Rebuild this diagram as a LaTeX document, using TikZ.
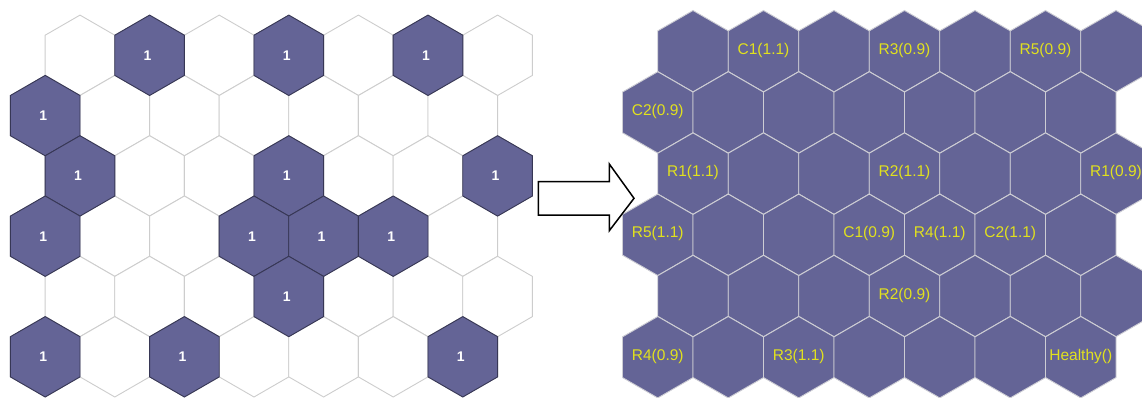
\documentclass[tikz,border=0pt]{standalone}
\usepackage{fontspec}
\setmainfont{Liberation Sans}
\definecolor{somfill}{RGB}{100,100,150}
\definecolor{darkedge}{RGB}{55,55,85}
\definecolor{lightedge}{RGB}{205,205,205}
\definecolor{gridedge}{RGB}{205,205,212}
\definecolor{lbl}{RGB}{225,225,30}
\tikzset{
  emptyhex/.style={fill=white,draw=lightedge,line width=0.9pt},
  hithex/.style={fill=somfill,draw=darkedge,line width=0.9pt},
  maphex/.style={fill=somfill,draw=gridedge,line width=0.9pt},
  hitlabel/.style={text=white,font=\fontsize{14}{14}\selectfont\bfseries,inner sep=0pt},
  maplabel/.style={text=lbl,font=\fontsize{15.5}{15.5}\selectfont,inner sep=0pt},
  bigarrow/.style={fill=white,draw=black,line width=1.5pt,line join=miter}
}
\newcommand{\hexat}[4]{% style, cx, cy, R
  \path[#1,shift={(#2,#3)}] (90:#4) -- (150:#4) -- (210:#4) -- (270:#4) -- (330:#4) -- (30:#4) -- cycle;}
\begin{document}
\begin{tikzpicture}[x=1pt,y=-1pt]
\useasboundingbox (0,0) rectangle (1142,398);
\clip (0,0) rectangle (1142,398);
% ---------- left map: empty cells ----------
\foreach \r in {0,...,5}{
  \foreach \k in {0,...,6}{
    \pgfmathsetmacro{\cx}{mod(\r,2)==0 ? 80+69.6*\k : 45.2+69.6*\k}
    \pgfmathsetmacro{\cy}{55.3+60.3*\r}
    \hexat{emptyhex}{\cx}{\cy}{40.2}
  }
}
% ---------- left map: hit cells ----------
\foreach \r/\k [count=\i] in {0/1,0/3,0/5,1/0,2/0,2/3,2/6,3/0,3/3,3/4,3/5,4/3,5/0,5/2,5/6}{
  \pgfmathsetmacro{\cx}{mod(\r,2)==0 ? 80+69.6*\k : 45.2+69.6*\k}
  \pgfmathsetmacro{\cy}{55.3+60.3*\r}
  \hexat{hithex}{\cx}{\cy}{40.2}
  \node[hitlabel] (hit\i) at (\cx-2,\cy) {1};
}
% ---------- right map ----------
\foreach \r in {0,...,5}{
  \foreach \k in {0,...,6}{
    \pgfmathsetmacro{\cx}{mod(\r,2)==0 ? 693+70.5*\k : 657.75+70.5*\k}
    \pgfmathsetmacro{\cy}{51.2+61.2*\r}
    \hexat{maphex}{\cx}{\cy}{40.7}
  }
}
\foreach \r/\k/\t [count=\i] in {0/1/C1(1.1),0/3/R3(0.9),0/5/R5(0.9),1/0/C2(0.9),
  2/0/R1(1.1),2/3/R2(1.1),2/6/R1(0.9),3/0/R5(1.1),3/3/C1(0.9),3/4/R4(1.1),3/5/C2(1.1),
  4/3/R2(0.9),5/0/R4(0.9),5/2/R3(1.1),5/6/Healthy()}{
  \pgfmathsetmacro{\cx}{mod(\r,2)==0 ? 693+70.5*\k : 657.75+70.5*\k}
  \pgfmathsetmacro{\cy}{51.2+61.2*\r-1}
  \node[maplabel] (map\i) at (\cx,\cy) {\t};
}
% ---------- arrow ----------
\path[bigarrow] (538.3,181.7) -- (609.3,181.7) -- (609.3,164) -- (634,198.3)
  -- (609.3,230.7) -- (609.3,215) -- (538.3,215) -- cycle;
\end{tikzpicture}
\end{document}
